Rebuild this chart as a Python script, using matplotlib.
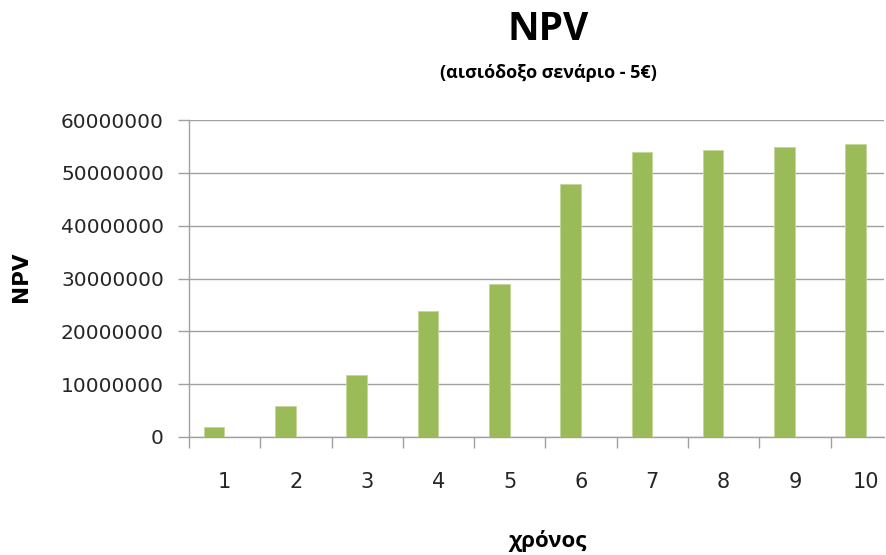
import matplotlib
matplotlib.use('Agg')
import matplotlib.pyplot as plt

# Data
years = [1, 2, 3, 4, 5, 6, 7, 8, 9, 10]
npv = [1900000, 5900000, 11800000, 23800000, 29050000,
       47800000, 53900000, 54400000, 54900000, 55400000]
y_ticks = [0, 10000000, 20000000, 30000000, 40000000, 50000000, 60000000]

title = 'NPV'
subtitle = '(αισιόδοξο σενάριο - 5€)'
x_label = 'χρόνος'
y_label = 'NPV'

# Style
BAR_COLOUR = '#9bbb59'
GRID_COLOUR = '#a0a0a0'
TEXT_COLOUR = '#262626'

fig = plt.figure(figsize=(8.86, 5.55), dpi=100)
ax = fig.add_axes([189 / 886, 1 - 437 / 555, (884 - 189) / 886, (437 - 120) / 555])

# excel style clustered bar, shifted a bit left of the category centre
bar_x = [y - 0.147 for y in years]
ax.bar(bar_x, npv, width=0.288, color=BAR_COLOUR, edgecolor='#c4d79b', lw=0.6, zorder=3)

ax.set_xlim(0.5, 10.25)
ax.set_ylim(0, 60000000)
ax.set_yticks(y_ticks)
ax.set_yticklabels([str(v) for v in y_ticks])
ax.set_xticks(years)
ax.set_xticklabels([str(y) for y in years])

# category boundary ticks on the x axis
ax.set_xticks([y + 0.5 for y in years[:-1]] + [0.5], minor=True)
ax.tick_params(axis='x', which='major', length=0, pad=25, labelsize=15, labelcolor=TEXT_COLOUR)
ax.tick_params(axis='x', which='minor', length=8, width=1, color=GRID_COLOUR, direction='out')
ax.tick_params(axis='y', length=8, width=1, color=GRID_COLOUR, pad=10, labelsize=14.5,
               labelcolor=TEXT_COLOUR)

ax.grid(axis='y', color=GRID_COLOUR, lw=1, zorder=0)
ax.set_axisbelow(True)
for side in ['top', 'right']:
    ax.spines[side].set_visible(False)
for side in ['left', 'bottom']:
    ax.spines[side].set_color(GRID_COLOUR)
    ax.spines[side].set_linewidth(1)

# Titles
fig.text(548 / 886, 1 - 30 / 555, title, ha='center', va='center', fontsize=28,
         fontweight='bold', family='Open Sans', color='black')
fig.text(548 / 886, 1 - 73 / 555, subtitle, ha='center', va='center', fontsize=13,
         fontweight='bold', family='Open Sans', color='black')
fig.text(548 / 886, 1 - 541 / 555, x_label, ha='center', va='center', fontsize=16,
         fontweight='bold', family='Open Sans', color='black')
fig.text(21 / 886, 1 - 277 / 555, y_label, ha='center', va='center', fontsize=15.5,
         fontweight='bold', family='DejaVu Sans', rotation=90, color='black')

fig.savefig('out.png', dpi=100)
